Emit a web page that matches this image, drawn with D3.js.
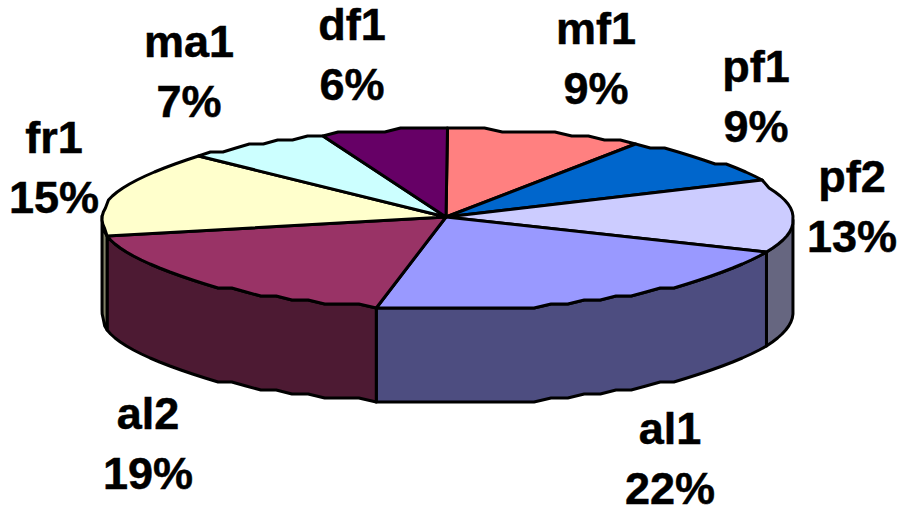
<!DOCTYPE html>
<html>
<head>
<meta charset="utf-8">
<script src="https://cdn.jsdelivr.net/npm/d3@7/dist/d3.min.js"></script>
<style>
  html, body { margin: 0; padding: 0; background: #fff; }
  svg { display: block; }
  text { font-family: "Liberation Sans", Arial, sans-serif; font-weight: 700; font-size: 45px; fill: #000; stroke: #000; stroke-width: 0.5px; text-anchor: middle; }
</style>
</head>
<body>
<svg id="chart" width="899" height="506"></svg>
<script>
// Share of each category, clockwise from twelve o'clock.
const categories = ["mf1", "pf1", "pf2", "al1", "al2", "fr1", "ma1", "df1"];
const shares = [9, 9, 13, 22, 19, 15, 7, 6];
const topColors = ["#FF8080", "#0066CC", "#CCCCFF", "#9999FF", "#993366", "#FFFFCC", "#CCFFFF", "#660066"];
const wallColors = ["#804040", "#003366", "#666680", "#4D4D80", "#4D1A33", "#808066", "#668080", "#330033"];

// Label centres and the baselines of their two rows.
const labelX = [596, 756, 852, 670, 148, 54, 189, 352];
const labelY = [44, 82, 192, 444, 429, 153, 57, 40];
const rowGap = 60;

// The hub sits slightly above the centre of the rim, as it does on a tilted disc.
const hubX = 446, hubY = 217;
const cx = 447.5, cy = 219, rx = 345.5, ry = 90, depth = 94, snap = 4;

const svg = d3.select("#chart");
const pie = d3.pie().value(d => d).sort(null);
const slices = pie(shares).map((s, i) => ({ ...s, i }));

const xAt = d3.scaleLinear().domain([-1, 1]).range([cx - rx, cx + rx]);
const yAt = d3.scaleLinear().domain([-1, 1]).range([cy + ry, cy - ry]);
const grid = v => Math.round(v / snap) * snap;

// Foreshortening of the tilted view nudges rim angles clockwise, pinned at the top.
const viewAngle = t => t + (1.1 * Math.PI / 180) * Math.sqrt(Math.abs(Math.sin(t / 2)));
const rim = (t, drop = 0) => {
  const v = viewAngle(t);
  return [xAt(Math.sin(v)), grid(yAt(Math.cos(v))) + drop];
};

function rimPoints(a0, a1, drop = 0) {
  const n = Math.max(2, Math.ceil((a1 - a0) / (3 * Math.PI / 180)));
  return d3.range(n + 1).map(k => rim(a0 + (a1 - a0) * k / n, drop));
}

const outline = d3.line();
const front0 = Math.PI / 2, front1 = 3 * Math.PI / 2;

// Side walls: only the front half of the disc shows.
const walls = slices
  .filter(s => s.endAngle > front0 && s.startAngle < front1)
  .map(s => ({ ...s, a0: Math.max(s.startAngle, front0), a1: Math.min(s.endAngle, front1) }));

svg.append("g").selectAll("path").data(walls).join("path")
  .attr("d", s => outline([...rimPoints(s.a0, s.a1), ...rimPoints(s.a0, s.a1, depth).reverse()]) + "Z")
  .attr("fill", s => wallColors[s.i])
  .attr("stroke", "#000")
  .attr("stroke-width", 3)
  .attr("stroke-linejoin", "round");

// Top face wedges.
svg.append("g").selectAll("path").data(slices).join("path")
  .attr("d", s => outline([[hubX, hubY], ...rimPoints(s.startAngle, s.endAngle)]) + "Z")
  .attr("fill", s => topColors[s.i])
  .attr("stroke", "#000")
  .attr("stroke-width", 3)
  .attr("stroke-linejoin", "round");

// Two-row labels: category name above its percentage.
const labels = svg.append("g").selectAll("text").data(slices).join("text")
  .attr("x", s => labelX[s.i])
  .attr("y", s => labelY[s.i]);
labels.append("tspan").text(s => categories[s.i]);
labels.append("tspan")
  .attr("x", s => labelX[s.i])
  .attr("dy", rowGap)
  .text(s => s.value + "%");
</script>
</body>
</html>
